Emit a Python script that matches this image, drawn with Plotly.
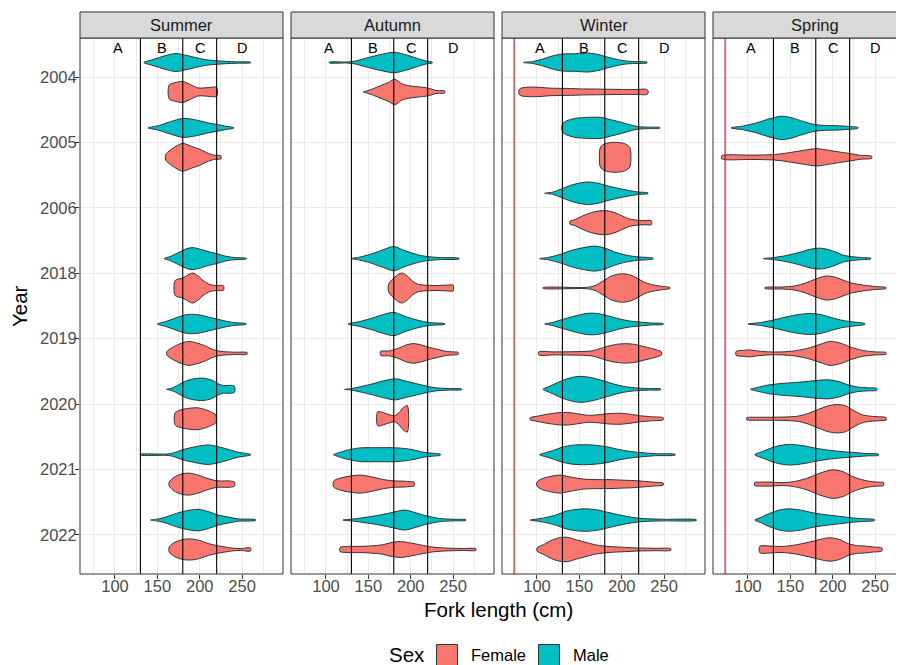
import plotly.graph_objects as go

# ---------------- data ----------------
SEASONS = ["Summer", "Autumn", "Winter", "Spring"]
YEARS = ["2004", "2005", "2006", "2018", "2019", "2020", "2021", "2022"]
X_TICKS = [100, 150, 200, 250]
X_MINOR = [75, 125, 175, 225, 275]
CLASS_BREAKS = [130, 180, 220]
CLASS_LABELS = ["A", "B", "C", "D"]
CLASS_LABEL_X = [104, 155, 200, 250]
MIN_LIMIT = 73
RED_LINE_SEASONS = ["Winter", "Spring"]
SEXES = ["Female", "Male"]

# violin density profiles: year -> [[fork length (cm), half-width density], ...]
SUMMER_MALE = {
    "2004": [[134, 0], [145, 3], [160, 7], [172, 9], [185, 7], [200, 4], [210, 2.5], [220, 1.8], [230, 1.2], [245, 0.7], [260, 0.3]],
    "2005": [[139, 0], [150, 2], [165, 6], [180, 9.5], [195, 8], [210, 5], [220, 3.5], [232, 1.5], [240, 0.3]],
    "2018": [[158, 0], [165, 2], [175, 6], [185, 10], [192, 11], [200, 9.5], [210, 7], [220, 5], [230, 2.5], [240, 1.2], [255, 0.3]],
    "2019": [[150, 0], [160, 2.5], [170, 5.5], [180, 8.5], [190, 9.7], [200, 9], [210, 7], [220, 5], [230, 3], [240, 1.5], [255, 0.3]],
    "2020": [[161, 0], [166, 1], [172, 3], [180, 7], [190, 10], [204, 11.2], [215, 9], [222, 5.5], [228, 3.8], [236, 4], [241, 3]],
    "2021": [[130, 0.4], [160, 0.6], [168, 1.5], [180, 5], [195, 8], [210, 9.8], [222, 8], [235, 5], [245, 2.5], [255, 1.2], [260, 0.4]],
    "2022": [[142, 0], [150, 1], [160, 3], [170, 6], [180, 8.5], [198, 10.8], [210, 8.5], [222, 5], [235, 2.8], [245, 1.2], [266, 0.4]],
}
SUMMER_FEMALE = {
    "2004": [[164, 7], [172, 9.5], [180, 10.5], [190, 7], [198, 4], [205, 4], [212, 4.5], [220, 4.5]],
    "2005": [[160, 3], [165, 7], [172, 11], [180, 14], [190, 11], [200, 8], [210, 4], [218, 2], [225, 1.5]],
    "2018": [[171, 7.5], [180, 10], [188, 14], [192, 15], [198, 12], [205, 7], [212, 3.5], [220, 2.5], [228, 2.2]],
    "2019": [[161, 1.5], [168, 6], [178, 10], [187, 12], [198, 10], [208, 7], [215, 4], [225, 2], [240, 1.2], [256, 0.8]],
    "2020": [[171, 6], [178, 9], [188, 10.5], [197, 11], [207, 9], [214, 6.5], [219, 4]],
    "2021": [[164, 2], [170, 7], [178, 10], [187, 11], [198, 9], [208, 6], [216, 4], [225, 3], [233, 3.3], [241, 2]],
    "2022": [[164, 2.5], [170, 7], [180, 10], [190, 10.5], [200, 9], [210, 6], [220, 4], [230, 2.5], [240, 1.3], [250, 1], [257, 1.8], [260, 1.5]],
}
AUTUMN_MALE = {
    "2004": [[104, 0.4], [125, 0.5], [135, 1.5], [150, 5], [165, 8], [180, 10.3], [195, 7.5], [208, 4], [218, 1.5], [225.5, 0.4]],
    "2018": [[130, 0], [140, 1.5], [155, 5], [168, 9], [180, 12.2], [190, 9], [200, 6], [210, 3.5], [220, 2], [235, 1], [257, 0.4]],
    "2019": [[126, 0], [140, 2.5], [155, 6], [168, 9.5], [180, 11.7], [192, 8], [205, 4.5], [215, 2.5], [225, 1.2], [240, 0.4]],
    "2020": [[122, 0], [130, 0.8], [140, 2.5], [155, 5.5], [168, 8.5], [182, 10.5], [195, 8], [210, 5], [220, 3], [230, 1.5], [245, 0.8], [260, 0.4]],
    "2021": [[109, 0], [115, 2], [125, 4.5], [140, 6.8], [160, 7], [180, 7], [195, 6], [205, 4.5], [215, 2.5], [225, 1.5], [235, 0.5]],
    "2022": [[120, 0], [130, 0.8], [145, 2.5], [160, 4.5], [175, 7], [193, 10], [205, 7.5], [215, 5], [225, 3], [235, 1.5], [250, 0.8], [265, 0.4]],
}
AUTUMN_FEMALE = {
    "2004": [[144, 0], [148, 1], [155, 3], [165, 6.5], [175, 10], [181, 12.8], [190, 8], [200, 6], [210, 5], [220, 4], [230, 1.5], [240, 1]],
    "2018": [[174, 4], [180, 10], [186, 14], [190, 15], [196, 12], [202, 7], [208, 4], [215, 3], [230, 2.5], [245, 3], [250, 3]],
    "2019": [[164.5, 2], [175, 2.5], [185, 5], [195, 8.5], [203, 9.8], [212, 8.5], [222, 6], [232, 4], [242, 2], [250, 1.5], [256, 1]],
    "2020": [[161, 7], [168, 6], [175, 4], [181, 3], [186, 6], [191, 11], [196, 13.3]],
    "2021": [[109, 3], [115, 5.5], [128, 8], [141, 9], [155, 7], [168, 4.5], [180, 3.2], [190, 3], [198, 2.5], [204, 1.8]],
    "2022": [[116.5, 2], [125, 3], [145, 3.2], [165, 4.5], [178, 7], [188, 8], [200, 6.5], [212, 4.5], [225, 2.5], [240, 1.5], [260, 1], [277, 0.8]],
}
WINTER_MALE = {
    "2004": [[84, 0], [95, 1], [105, 3], [118, 6.5], [130, 8.5], [145, 8.8], [160, 9.5], [172, 8], [185, 5], [195, 3], [205, 1.5], [215, 1], [230, 0.4]],
    "2005": [[130, 4], [135, 7], [145, 9.5], [160, 10.5], [175, 10.5], [188, 8], [200, 5.5], [210, 3], [220, 1.2], [232, 0.7], [245, 0.4]],
    "2006": [[109, 0], [118, 1], [128, 4], [140, 8], [152, 10.5], [161, 11.3], [172, 10], [185, 7], [198, 4.5], [210, 2.5], [220, 1.2], [231, 0.4]],
    "2018": [[103, 0], [112, 1], [120, 2.5], [130, 5], [140, 8], [155, 11], [168, 12.5], [180, 10.5], [192, 6.5], [205, 3.5], [218, 1.8], [237, 0.4]],
    "2019": [[109, 0], [118, 1.5], [130, 4.5], [145, 8], [158, 10.5], [167, 10.8], [180, 9], [195, 5.5], [208, 3.2], [220, 2], [235, 1], [249, 0.4]],
    "2020": [[107, 0], [112, 2], [120, 5], [132, 9.5], [145, 12.5], [153, 13], [165, 11.5], [180, 8], [192, 5], [202, 3], [215, 1.5], [230, 0.8], [246, 0.4]],
    "2021": [[103, 0], [110, 2], [118, 4], [130, 7.5], [142, 9.5], [155, 10], [168, 9.5], [182, 8], [195, 5.5], [208, 3.5], [222, 2.2], [240, 1], [263, 0.4]],
    "2022": [[92, 0], [100, 1], [110, 2.5], [122, 5], [135, 9], [148, 10.8], [159, 11.2], [172, 10], [185, 7.5], [198, 5], [210, 3], [225, 1.5], [250, 0.8], [288, 0.4]],
}
WINTER_FEMALE = {
    "2004": [[79, 2.5], [82, 4], [92, 4.8], [105, 4.5], [115, 3.8], [135, 3.5], [155, 3], [175, 2.8], [200, 2.5], [220, 2.5], [228, 2.8], [231, 1.5]],
    "2005": [[174.4, 9], [177, 12], [182, 14], [192, 15], [202, 14], [207, 12], [210, 9]],
    "2006": [[139, 1.5], [145, 3], [152, 6], [162, 9.5], [172, 11.5], [182, 12], [192, 10], [200, 7], [208, 4], [215, 2.8], [225, 2], [235, 2]],
    "2018": [[107, 0.4], [150, 0.5], [162, 1], [170, 3], [178, 7], [188, 12], [200, 14.2], [210, 13], [218, 10], [226, 6], [235, 3.5], [245, 2], [257, 0.4]],
    "2019": [[102, 1.5], [120, 1.5], [150, 1.8], [165, 2.5], [175, 5], [185, 7.5], [195, 9.2], [205, 9.7], [215, 9], [225, 7], [235, 5], [243, 3], [247, 1.5]],
    "2020": [[92, 1], [100, 2.5], [112, 4.5], [125, 6], [135, 6.3], [148, 5], [160, 3.5], [172, 4], [185, 5.2], [198, 5.5], [210, 4.5], [222, 3], [235, 2], [249, 1]],
    "2021": [[100, 2], [105, 5], [115, 7.5], [127, 9], [140, 7], [155, 5], [170, 4.5], [185, 4.5], [200, 4], [215, 3.5], [230, 2.5], [240, 1.8], [249, 1]],
    "2022": [[100, 1.5], [108, 5], [118, 9.5], [128, 12], [136, 12.2], [145, 10], [158, 7], [170, 4.5], [185, 3], [200, 2.3], [220, 1.5], [240, 1.2], [258, 0.8]],
}
SPRING_MALE = {
    "2005": [[80, 0], [95, 2], [110, 5], [125, 9], [140, 11.7], [152, 10], [165, 6.5], [178, 3.5], [190, 2.5], [205, 2.2], [218, 1.5], [230, 0.4]],
    "2018": [[118, 0], [130, 1], [145, 3], [160, 6], [172, 9], [184, 10.5], [195, 9], [205, 6], [212, 3.5], [222, 2], [235, 1], [245, 0.4]],
    "2019": [[100, 0], [115, 1.5], [130, 4], [145, 7], [160, 9.5], [175, 10.5], [188, 9], [200, 6], [212, 3.5], [225, 2], [238, 0.4]],
    "2020": [[103, 0], [112, 2], [122, 4], [135, 5.5], [150, 6.5], [165, 7.5], [180, 8.8], [195, 9.5], [208, 7.5], [220, 4], [230, 2.2], [242, 1.5], [252, 1]],
    "2021": [[108, 0], [118, 3.5], [130, 7.5], [140, 9.5], [150, 10.3], [165, 9], [180, 6.5], [195, 4.5], [210, 3.2], [225, 2.2], [240, 1.2], [254, 0.6]],
    "2022": [[108, 0], [115, 2.5], [125, 6.5], [137, 10], [148, 11.2], [162, 10], [178, 7], [195, 5], [210, 3.5], [225, 2], [240, 1.2], [249, 0.6]],
}
SPRING_FEMALE = {
    "2005": [[69, 1.5], [75, 2.5], [100, 2.2], [125, 2.5], [140, 3.5], [155, 5.5], [170, 7.5], [181, 8.7], [195, 7], [210, 5], [222, 3.5], [232, 2], [246, 1]],
    "2018": [[120, 0.5], [140, 1], [155, 2], [168, 5], [180, 9], [192, 12], [202, 11], [212, 8], [222, 5], [235, 3], [250, 1.5], [263, 0.5]],
    "2019": [[86, 2], [95, 3], [102, 3.5], [110, 2.5], [125, 1.5], [140, 1.5], [155, 2.5], [170, 5], [185, 9], [197, 12], [210, 10], [222, 6], [235, 3], [250, 1.5], [263, 0.8]],
    "2020": [[98.5, 1], [110, 1.5], [125, 1.5], [145, 1.8], [158, 2.5], [170, 5], [182, 9], [195, 13], [205, 14.2], [215, 13], [225, 8], [235, 4], [245, 2.5], [255, 2], [263, 1.2]],
    "2021": [[108, 1.5], [115, 2], [125, 2], [140, 1.5], [150, 2], [160, 3.5], [172, 6.5], [185, 11], [200, 14.3], [212, 12.5], [222, 8], [232, 5], [242, 3], [252, 2], [260, 1.5]],
    "2022": [[114, 3.3], [125, 3.5], [140, 3], [152, 4], [165, 6], [180, 9], [190, 11], [197, 11.7], [208, 10], [218, 6], [228, 4], [238, 3.5], [248, 2.5], [258, 1.5]],
}

PROFILES = {
    ("Summer", "Male"): SUMMER_MALE, ("Summer", "Female"): SUMMER_FEMALE,
    ("Autumn", "Male"): AUTUMN_MALE, ("Autumn", "Female"): AUTUMN_FEMALE,
    ("Winter", "Male"): WINTER_MALE, ("Winter", "Female"): WINTER_FEMALE,
    ("Spring", "Male"): SPRING_MALE, ("Spring", "Female"): SPRING_FEMALE,
}

# ---------------- style / layout ----------------
PAGE_W, PAGE_H = 904, 665
OFF = 8                      # default body margin of the html page
W, H = PAGE_W - OFF, PAGE_H - OFF
FONT = "Liberation Sans, Arial, Helvetica, sans-serif"
COLORS = {"Female": "#F8766D", "Male": "#00BFC4"}
DODGE = {"Male": -0.225, "Female": 0.225}
PX_PER_UNIT = 536 / 8.2
PANEL_LEFT = [80, 291, 502, 713]
PANEL_RIGHT = [283, 494, 705, 916]
PANEL_TOP, PANEL_BOTTOM = 38, 574
STRIP_TOP = 12
X_LO = 58.7
CM_PER_PX = (298.3 - 58.7) / 203.0
SMALL, LARGE = 16.5, 20.5


def fx(px):
    return (px - OFF) / W


def fy(py):
    return 1 - (py - OFF) / H


def outline(profile, center):
    k = 1.0 / PX_PER_UNIT
    pts = [(x, center - w * k) for x, w in profile]
    pts += [(x, center + w * k) for x, w in reversed(profile)]
    clean = []
    for p in pts:
        if not clean or (abs(p[0] - clean[-1][0]) > 1e-9 or abs(p[1] - clean[-1][1]) > 1e-9):
            clean.append(p)
    if clean[0] != clean[-1]:
        clean.append(clean[0])
    return [p[0] for p in clean], [p[1] for p in clean]


fig = go.Figure()
shapes = []
annotations = []

for k, season in enumerate(SEASONS):
    n = "" if k == 0 else str(k + 1)
    xref, yref = "x" + n, "y" + n
    for sex in ["Male", "Female"]:
        prof = PROFILES[(season, sex)]
        for year, profile in prof.items():
            c = YEARS.index(year) + DODGE[sex]
            xs, ys = outline(profile, c)
            fig.add_trace(go.Scatter(
                x=xs, y=ys, xaxis=xref, yaxis=yref, mode="lines",
                fill="toself", fillcolor=COLORS[sex],
                line=dict(color="#333333", width=1, shape="spline", smoothing=0.8),
                hoverinfo="skip", showlegend=False))

    right = min(PANEL_RIGHT[k], PAGE_W)
    x_hi = X_LO + (right - PANEL_LEFT[k]) * CM_PER_PX
    fig.layout["xaxis" + n] = dict(
        domain=[fx(PANEL_LEFT[k]), fx(right)], range=[X_LO, x_hi],
        anchor=yref, tickmode="array", tickvals=X_TICKS, ticktext=[str(v) for v in X_TICKS],
        ticks="outside", ticklen=4, tickwidth=1, tickcolor="#333333",
        ticklabelstandoff=-7,
        tickfont=dict(family=FONT, size=SMALL, color="#4D4D4D"),
        showgrid=True, gridcolor="#EBEBEB", gridwidth=1.1,
        minor=dict(tickmode="array", tickvals=X_MINOR, showgrid=True, gridcolor="#EBEBEB", gridwidth=0.6, ticks=""),
        zeroline=False, showline=False, automargin=False, fixedrange=True)
    fig.layout["yaxis" + n] = dict(
        domain=[fy(PANEL_BOTTOM), fy(PANEL_TOP)], range=[7.6, -0.6], anchor=xref,
        tickmode="array", tickvals=list(range(len(YEARS))), ticktext=YEARS,
        ticks="outside" if k == 0 else "", ticklen=4, tickwidth=1, tickcolor="#333333",
        showticklabels=(k == 0), ticklabelstandoff=-5,
        tickfont=dict(family=FONT, size=SMALL, color="#4D4D4D"),
        showgrid=True, gridcolor="#EBEBEB", gridwidth=1.1,
        zeroline=False, showline=False, automargin=False, fixedrange=True)

    for b in CLASS_BREAKS:
        shapes.append(dict(type="line", xref=xref, yref=yref + " domain", x0=b, x1=b, y0=0, y1=1,
                           line=dict(color="#000000", width=1.1), layer="above"))
    if season in RED_LINE_SEASONS:
        shapes.append(dict(type="line", xref=xref, yref=yref + " domain", x0=MIN_LIMIT, x1=MIN_LIMIT,
                           y0=0, y1=1, line=dict(color="#C0141E", width=1.1), layer="above"))
    for lab, lx in zip(CLASS_LABELS, CLASS_LABEL_X):
        annotations.append(dict(text=lab, x=lx, y=1 - 10 / 536, xref=xref, yref=yref + " domain",
                                showarrow=False, xanchor="center", yanchor="middle",
                                font=dict(family=FONT, size=14.5, color="#000000")))
    shapes.append(dict(type="rect", xref="paper", yref="paper",
                       x0=fx(PANEL_LEFT[k]), x1=fx(PANEL_RIGHT[k]), y0=fy(PANEL_BOTTOM), y1=fy(PANEL_TOP),
                       line=dict(color="#333333", width=1), fillcolor="rgba(0,0,0,0)", layer="above"))
    shapes.append(dict(type="rect", xref="paper", yref="paper",
                       x0=fx(PANEL_LEFT[k]), x1=fx(PANEL_RIGHT[k]), y0=fy(PANEL_TOP), y1=fy(STRIP_TOP),
                       line=dict(color="#333333", width=1), fillcolor="#D9D9D9", layer="above"))
    annotations.append(dict(text=season, x=fx((PANEL_LEFT[k] + PANEL_RIGHT[k]) / 2),
                            y=fy((STRIP_TOP + PANEL_TOP) / 2), xref="paper", yref="paper",
                            showarrow=False, xanchor="center", yanchor="middle",
                            font=dict(family=FONT, size=SMALL, color="#1A1A1A")))

annotations.append(dict(text="Fork length (cm)", x=fx(498), y=fy(609), xref="paper", yref="paper",
                        showarrow=False, xanchor="center", yanchor="middle",
                        font=dict(family=FONT, size=LARGE, color="#000000")))
annotations.append(dict(text="Year", x=fx(19), y=fy(306), xref="paper", yref="paper", textangle=-90,
                        showarrow=False, xanchor="center", yanchor="middle",
                        font=dict(family=FONT, size=LARGE, color="#000000")))

annotations.append(dict(text="Sex", x=fx(387), y=fy(654), xref="paper", yref="paper",
                        showarrow=False, xanchor="left", yanchor="middle",
                        font=dict(family=FONT, size=LARGE, color="#000000")))
key_left = {"Female": 436.5, "Male": 538.5}
label_left = {"Female": 469, "Male": 571}
for sex in SEXES:
    shapes.append(dict(type="rect", xref="paper", yref="paper",
                       x0=fx(key_left[sex]), x1=fx(key_left[sex] + 21), y0=fy(665.5), y1=fy(644.5),
                       line=dict(color="#333333", width=1), fillcolor=COLORS[sex], layer="above"))
    annotations.append(dict(text=sex, x=fx(label_left[sex]), y=fy(655), xref="paper", yref="paper",
                            showarrow=False, xanchor="left", yanchor="middle",
                            font=dict(family=FONT, size=SMALL, color="#000000")))

fig.update_layout(
    width=W, height=H, autosize=False,
    margin=dict(l=0, r=0, t=0, b=0),
    paper_bgcolor="white", plot_bgcolor="white",
    shapes=shapes, annotations=annotations,
    showlegend=False,
    font=dict(family=FONT),
)

fig.write_html("out.html")
